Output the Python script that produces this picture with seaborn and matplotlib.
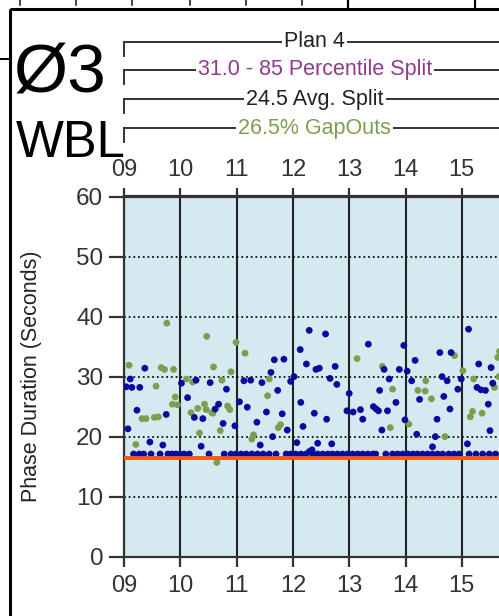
import numpy as np
import pandas as pd
import matplotlib
matplotlib.use("Agg")
import matplotlib.pyplot as plt
import matplotlib.transforms as mtransforms
from matplotlib.lines import Line2D
from matplotlib.patches import Rectangle
import seaborn as sns

plt.rcParams['font.family'] = ['Liberation Sans', 'DejaVu Sans']

# ---------------- data ----------------
phase_title = "Ø3"
approach = "WBL"
plan_label = "Plan 4"
pct_label = "31.0 - 85 Percentile Split"
avg_label = "24.5 Avg. Split"
gap_label = "26.5% GapOuts"
y_label = "Phase Duration (Seconds)"

hour_ticks = [9, 10, 11, 12, 13, 14, 15]
hour_labels = ["09", "10", "11", "12", "13", "14", "15"]
y_ticks = [0, 10, 20, 30, 40, 50, 60]

plan_start = 9.0
plan_end = 15.78
min_split_line = 16.4

# blue = force off / max out style terminations (dark blue dots)
blue_hours = [9.37, 10.28, 10.53, 9.11, 9.04, 9.14, 9.28, 10.02, 10.82, 11.13,
              10.13, 10.68, 10.62, 11.05, 9.23, 9.75, 10.25, 10.40, 10.76, 10.97,
              9.07, 9.46, 9.69, 10.37, 11.67, 11.84, 11.61, 11.25, 11.45, 11.73,
              11.19, 11.53, 11.81, 11.36, 11.90, 11.64, 11.42, 12.29, 12.58, 12.13,
              13.34, 12.24, 12.41, 12.47, 12.75, 12.02, 11.96, 12.66, 12.78, 13.00,
              12.14, 12.38, 12.60, 12.96, 13.07, 13.20, 13.24, 12.18, 12.07, 12.44,
              12.69, 12.34, 12.29, 13.97, 15.12, 14.17, 14.61, 14.81, 13.62, 13.89,
              14.03, 15.30, 15.52, 13.71, 14.11, 14.65, 14.74, 14.99, 15.55, 13.54,
              14.93, 15.27, 15.34, 15.42, 14.68, 13.83, 14.25, 15.47, 13.43, 13.48,
              13.52, 13.68, 14.79, 14.56, 13.99, 13.58, 15.50, 14.20, 14.53, 14.48,
              15.10]
blue_values = [31.4, 29.4, 29.0, 29.6, 28.3, 28.2, 28.2, 28.9, 27.9, 29.3,
               26.5, 25.4, 24.6, 25.8, 24.4, 23.7, 23.2, 23.0, 22.2, 21.8,
               21.3, 19.1, 18.6, 18.4, 32.8, 32.9, 30.7, 29.4, 29.0, 27.7,
               24.9, 24.1, 23.8, 22.4, 21.1, 20.0, 18.6, 37.7, 37.1, 34.5,
               35.4, 32.1, 31.2, 31.4, 31.7, 30.0, 29.2, 29.7, 28.7, 27.2,
               25.7, 23.9, 22.9, 24.3, 24.1, 24.5, 22.9, 21.7, 19.0, 18.9,
               18.8, 17.8, 17.5, 35.2, 37.9, 32.7, 34.0, 34.0, 31.2, 31.2,
               30.9, 32.1, 31.5, 29.6, 29.3, 30.0, 29.3, 29.6, 28.9, 27.7,
               27.9, 28.2, 27.8, 27.7, 26.7, 25.7, 26.2, 25.4, 25.0, 24.6,
               24.3, 24.3, 24.6, 22.9, 22.8, 21.1, 21.0, 20.4, 20.0, 18.3,
               18.8]

# blue dots sitting on the minimum (floor) row
floor_hours = [9.17, 9.27, 9.35, 9.48, 9.64, 9.78, 9.85, 9.92, 10.00, 10.07,
               10.16, 10.51, 10.78, 10.90, 10.99, 11.08, 11.17, 11.27, 11.37, 11.47,
               11.58, 11.70, 11.88, 11.96, 12.05, 12.14, 12.23, 12.35, 12.44, 12.53,
               12.62, 12.70, 12.79, 12.88, 12.97, 13.06, 13.15, 13.24, 13.33, 13.42,
               13.47, 13.65, 13.77, 13.86, 13.95, 14.04, 14.13, 14.21, 14.30, 14.39,
               14.48, 14.57, 14.66, 14.77, 14.86, 14.95, 15.13, 15.25, 15.37, 15.49,
               15.60]
floor_values = [17.1, 17.1, 17.1, 17.1, 17.1, 17.1, 17.1, 17.1, 17.1, 17.1,
                17.1, 17.1, 17.1, 17.1, 17.1, 17.1, 17.1, 17.1, 17.1, 17.1,
                17.1, 17.1, 17.1, 17.1, 17.1, 17.1, 17.1, 17.1, 17.1, 17.1,
                17.1, 17.1, 17.1, 17.1, 17.1, 17.1, 17.1, 17.1, 17.1, 17.1,
                17.1, 17.1, 17.1, 17.1, 17.1, 17.1, 17.1, 17.1, 17.1, 17.1,
                17.1, 17.1, 17.1, 17.1, 17.1, 17.1, 17.1, 17.1, 17.1, 17.1,
                17.1]

# green = gap outs
green_hours = [9.76, 10.47, 10.99, 11.15, 9.09, 9.66, 9.72, 9.88, 10.59, 10.90,
               10.11, 10.22, 10.74, 9.57, 9.91, 9.86, 9.95, 10.43, 10.31, 10.19,
               10.46, 10.58, 10.84, 10.88, 10.56, 9.32, 9.39, 9.54, 9.61, 10.34,
               10.71, 9.21, 10.65, 11.58, 11.55, 11.78, 11.74, 11.30, 11.27, 13.14,
               14.87, 13.59, 15.02, 15.64, 15.67, 14.36, 15.21, 15.58, 13.77, 14.22,
               14.35, 14.46, 15.19, 15.15, 15.36, 14.06, 13.73, 14.70, 15.66]
green_values = [38.9, 36.7, 35.7, 33.9, 31.9, 31.5, 31.2, 31.2, 31.6, 30.8,
                29.6, 29.1, 29.4, 28.4, 26.6, 25.4, 25.3, 25.4, 24.7, 24.0,
                24.5, 23.9, 25.1, 24.5, 24.0, 23.0, 23.0, 23.2, 23.3, 20.6,
                21.0, 18.7, 15.7, 29.6, 26.8, 22.0, 21.5, 20.3, 19.6, 33.0,
                33.5, 31.7, 31.0, 33.2, 34.2, 29.3, 29.6, 28.2, 27.9, 27.7,
                27.6, 26.3, 24.2, 23.3, 23.9, 22.1, 21.5, 20.0, 30.0]

df = pd.concat([
    pd.DataFrame({"hour": green_hours, "seconds": green_values, "kind": "GapOut"}),
    pd.DataFrame({"hour": blue_hours, "seconds": blue_values, "kind": "MaxOut"}),
    pd.DataFrame({"hour": floor_hours, "seconds": floor_values, "kind": "MaxOut"}),
], ignore_index=True)

# ---------------- figure ----------------
W, H = 499, 616
fig = plt.figure(figsize=(W / 100, H / 100), dpi=100, facecolor="white")

ax_left, ax_right = 124, 499
ax_top, ax_bottom = 196.5, 556.7
ax = fig.add_axes([ax_left / W, 1 - ax_bottom / H,
                   (ax_right - ax_left) / W, (ax_bottom - ax_top) / H])
ax.set_facecolor("#D5E9F1")

sns.scatterplot(data=df, x="hour", y="seconds", hue="kind",
                palette={"GapOut": "#7A9F4E", "MaxOut": "#0A0A9E"},
                s=24, linewidth=0, legend=False, ax=ax, zorder=3)

ax.axhline(min_split_line, color="#F25A10", lw=2.8, zorder=4)

ax.set_xlim(9, 9 + (ax_right - ax_left) / 56.3)
ax.set_ylim(0, 60)
ax.set_xticks(hour_ticks)
ax.set_xticklabels(hour_labels)
ax.set_yticks(y_ticks)
ax.set_xlabel("")
ax.set_ylabel(y_label, fontsize=15.5, color="#222222")
ax.yaxis.set_label_coords((42 - ax_left) / (ax_right - ax_left), 0.5)

ax.set_axisbelow(True)
ax.xaxis.grid(True, color="#222222", lw=1.5, ls="-")
ax.yaxis.grid(True, color="#111111", lw=1.3, ls=(0, (1, 1.6)))

for side in ["left", "top", "bottom"]:
    ax.spines[side].set_color("#333333")
    ax.spines[side].set_linewidth(1.6)
ax.spines["right"].set_visible(False)

ax.tick_params(axis="y", direction="out", length=11, width=1.6, pad=4,
               labelsize=17.5, color="#333333", labelcolor="#333333")
ax.tick_params(axis="x", direction="out", length=7, width=1.6, pad=6,
               labelsize=17, color="#333333", labelcolor="#333333")

sec = ax.secondary_xaxis("top")
sec.set_xticks(hour_ticks)
sec.set_xticklabels(hour_labels)
sec.tick_params(direction="out", length=6, width=1.6, pad=5,
                labelsize=17, color="#333333", labelcolor="#333333")
sec.spines["top"].set_color("#333333")
sec.spines["top"].set_linewidth(1.6)

# ---------------- overlay (pixel coordinates) ----------------
ov = fig.add_axes([0, 0, 1, 1])
ov.set_xlim(0, W)
ov.set_ylim(H, 0)
ov.axis("off")

# outer frame of the report panel
ov.add_patch(Rectangle((10, 9), 600, 700, fill=False, ec="black", lw=2.2, clip_on=False))
ov.add_line(Line2D([0, 10], [59, 59], color="black", lw=1.4))
for xt in [20, 76, 132, 190, 246, 302]:
    ov.add_line(Line2D([xt, xt], [0, 5], color="#222222", lw=1.2))
for xt in [348, 475]:
    ov.add_line(Line2D([xt, xt], [0, 9], color="black", lw=1.6))

ov.text(14, 93, phase_title, fontsize=50, color="black", va="baseline", ha="left")
ov.text(16, 157, approach, fontsize=36.5, color="black", va="baseline", ha="left")

# plan brackets: x in hours, y in pixels
blend = mtransforms.blended_transform_factory(ax.transData, ov.transData)
brackets = [(41.5, plan_label, "#222222"),
            (69.5, pct_label, "#8E3B8E"),
            (99.0, avg_label, "#222222"),
            (128.3, gap_label, "#7E9F50")]
mid = (plan_start + plan_end) / 2
for yb, txt, col in brackets:
    ov.add_line(Line2D([plan_start, plan_end], [yb, yb], transform=blend,
                       color="#333333", lw=1.4, clip_on=False))
    ov.add_line(Line2D([plan_start, plan_start], [yb, yb + 14], transform=blend,
                       color="#333333", lw=1.4, clip_on=False))
    ov.text(mid, yb, txt, transform=blend, fontsize=15.5, color=col,
            ha="center", va="center",
            bbox=dict(facecolor="white", edgecolor="none", pad=1.5))

fig.savefig("out.png", dpi=100, facecolor="white")
